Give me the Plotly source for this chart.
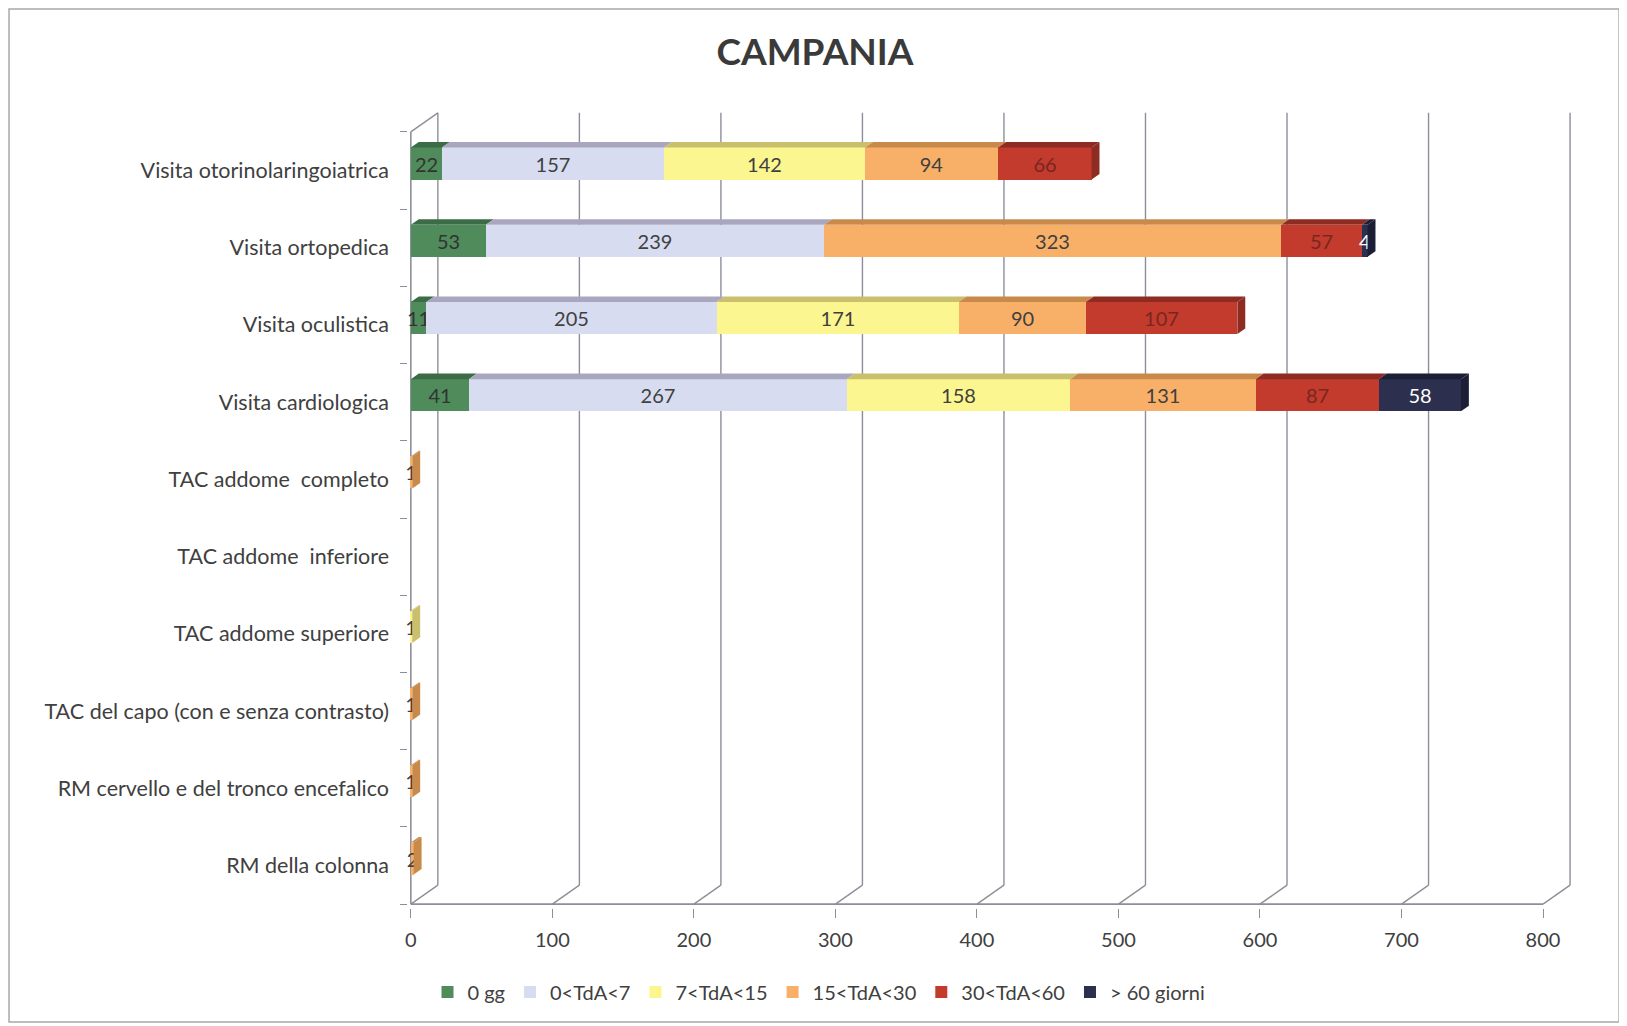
import plotly.graph_objects as go

# ---------------- data ----------------
categories = [
    "Visita otorinolaringoiatrica",
    "Visita ortopedica",
    "Visita oculistica",
    "Visita cardiologica",
    "TAC addome  completo",
    "TAC addome  inferiore",
    "TAC addome superiore",
    "TAC del capo (con e senza contrasto)",
    "RM cervello e del tronco encefalico",
    "RM della colonna",
]
series_names = ["0 gg", "0<TdA<7", "7<TdA<15", "15<TdA<30", "30<TdA<60", "> 60 giorni"]
v_0gg = [22, 53, 11, 41, 0, 0, 0, 0, 0, 0]
v_0_7 = [157, 239, 205, 267, 0, 0, 0, 0, 0, 0]
v_7_15 = [142, 0, 171, 158, 0, 0, 1, 0, 0, 0]
v_15_30 = [94, 323, 90, 131, 1, 0, 0, 1, 1, 2]
v_30_60 = [66, 57, 107, 87, 0, 0, 0, 0, 0, 0]
v_60 = [0, 4, 0, 58, 0, 0, 0, 0, 0, 0]
x_ticks = [0, 100, 200, 300, 400, 500, 600, 700, 800]
title_text = "CAMPANIA"

# ---------------- styles ----------------
series_values = [v_0gg, v_0_7, v_7_15, v_15_30, v_30_60, v_60]
front_colors = ["#4F8B5B", "#D7DCF0", "#FBF68F", "#F8B068", "#C23B2C", "#2C2F4E"]
top_colors = ["#3B6C46", "#A9A7C0", "#C9BF6C", "#C88A4A", "#8E2B22", "#1C1E36"]
text_colors = ["#333333", "#404040", "#404040", "#404040", "#7A2620", "#FFFFFF"]
FONT = "Lato, 'Open Sans', sans-serif"
GRID = "#8E8E9A"

n = len(categories)
ypos = [n - 1 - k for k in range(n)]  # top category plotted highest

BAR_W = 0.415
BAR_SHIFT = 0.09
DXB, DYB = 5.6, 0.072      # bar depth (data units)
DXW, DYW = 19.1, 0.246     # wall depth (data units)

fig = go.Figure()
for name, vals, fc, tc in zip(series_names, series_values, front_colors, text_colors):
    fig.add_trace(go.Bar(
        name=name, orientation="h", x=vals, y=ypos,
        width=BAR_W, offset=BAR_SHIFT - BAR_W / 2,
        marker=dict(color=fc, line=dict(width=0)),
        text=[str(v) if v else "" for v in vals],
        textposition="inside", insidetextanchor="middle", textangle=0,
        textfont=dict(family=FONT, size=20, color=tc),
        cliponaxis=False,
    ))

shapes = []
# gridlines / back walls
for t in x_ticks:
    shapes.append(dict(type="line", xref="x", yref="y", x0=t, y0=-0.5, x1=t + DXW, y1=-0.5 + DYW,
                       line=dict(color=GRID, width=1.4), layer="below"))
    shapes.append(dict(type="line", xref="x", yref="y", x0=t + DXW, y0=-0.5 + DYW, x1=t + DXW, y1=n - 0.5 + DYW,
                       line=dict(color=GRID, width=1.4), layer="below"))
# front axis lines
shapes.append(dict(type="line", xref="x", yref="y", x0=0, y0=-0.5, x1=x_ticks[-1], y1=-0.5,
                   line=dict(color=GRID, width=1.6), layer="below"))
shapes.append(dict(type="line", xref="x", yref="y", x0=0, y0=-0.5, x1=0, y1=n - 0.5,
                   line=dict(color=GRID, width=1.6), layer="below"))
shapes.append(dict(type="line", xref="x", yref="y", x0=0, y0=n - 0.5, x1=DXW, y1=n - 0.5 + DYW,
                   line=dict(color=GRID, width=1.4), layer="below"))

# 3D faces for bars
for i in range(n):
    y = ypos[i]
    yt = y + BAR_SHIFT + BAR_W / 2
    yb = y + BAR_SHIFT - BAR_W / 2
    cum = 0
    last = None
    for s, vals in enumerate(series_values):
        v = vals[i]
        if not v:
            continue
        x0, x1 = cum, cum + v
        path = f"M{x0},{yt} L{x1},{yt} L{x1 + DXB},{yt + DYB} L{x0 + DXB},{yt + DYB} Z"
        shapes.append(dict(type="path", xref="x", yref="y", path=path,
                           fillcolor=top_colors[s], line=dict(width=0), layer="above"))
        cum = x1
        last = s
    if last is not None:
        path = f"M{cum},{yb} L{cum},{yt} L{cum + DXB},{yt + DYB} L{cum + DXB},{yb + DYB} Z"
        shapes.append(dict(type="path", xref="x", yref="y", path=path,
                           fillcolor=top_colors[last], line=dict(width=0), layer="above"))

# outer frame
shapes.append(dict(type="rect", xref="paper", yref="paper", x0=-0.3413, y0=-0.143, x1=1.036, y1=1.128,
                   line=dict(color="#A8A8A8", width=1.5), layer="below"))

fig.update_layout(
    width=1619, height=1018,
    margin=dict(l=400, r=50, t=103, b=118),
    paper_bgcolor="white", plot_bgcolor="white",
    barmode="stack", bargap=0,
    title=dict(text=f"<b>{title_text}</b>", x=(815 - 8) / 1619, xanchor="center", y=1 - (52 - 8) / 1018,
               yanchor="middle", font=dict(family=FONT, size=37, color="#3A3A3A")),
    font=dict(family=FONT, color="#404040"),
    xaxis=dict(range=[-2, 824], tickvals=x_ticks, ticks="outside", ticklen=9, tickcolor=GRID, tickwidth=1.4,
               showgrid=False, zeroline=False, showline=False,
               tickfont=dict(family=FONT, size=20, color="#404040"), ticklabelstandoff=5),
    yaxis=dict(range=[-0.55, n - 0.5 + 0.27], tickvals=ypos, ticktext=categories, ticks="",
               showgrid=False, zeroline=False, showline=False,
               tickfont=dict(family=FONT, size=21.5, color="#404040"), ticklabelstandoff=18,
               minor=dict(tickvals=[k - 0.5 for k in range(n + 1)], ticks="outside", ticklen=7,
                          tickcolor=GRID, tickwidth=1.4, showgrid=False)),
    legend=dict(orientation="h", x=(819 - 408) / 1169, xanchor="center", y=(908 - 992) / 797, yanchor="middle",
                font=dict(family=FONT, size=20, color="#404040"), traceorder="normal",
                itemwidth=30, bgcolor="rgba(0,0,0,0)"),
    uniformtext=dict(minsize=20, mode="show"),
    shapes=shapes,
    showlegend=True,
)

fig.write_html("out.html")
